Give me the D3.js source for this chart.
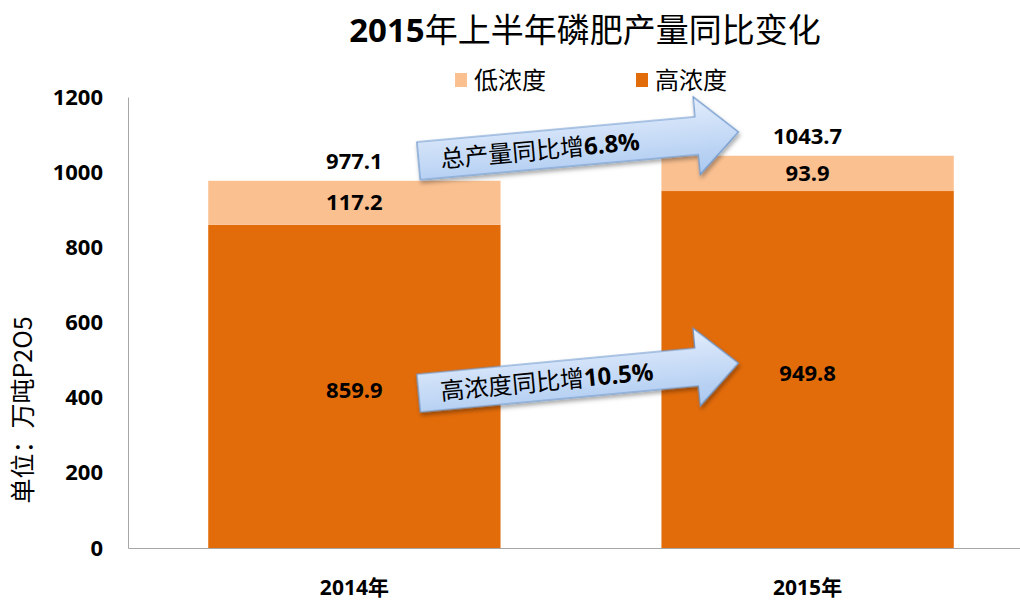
<!DOCTYPE html>
<meta charset="utf-8">
<script src="https://d3js.org/d3.v7.min.js"></script>
<style>
  body { margin: 0; background: #fff; }
  text { font-family: "Open Sans", "Noto Sans CJK SC", sans-serif; }
</style>
<body>
<svg width="1020" height="600"></svg>
<script>
// chart values
var categories = ["2014年", "2015年"];
var highConc = [859.9, 949.8];   // 高浓度
var lowConc = [117.2, 93.9];     // 低浓度
var totals = [977.1, 1043.7];
var yTicks = [0, 200, 400, 600, 800, 1000, 1200];
var seriesNames = ["低浓度", "高浓度"];
// growth arrows: value at tail (left) and at tip (right)
var arrowText = ["总产量同比增", "高浓度同比增"];
var arrowPct = ["6.8%", "10.5%"];
var arrowFrom = [1030, 412];
var arrowTo = [1107, 492];

var svg = d3.select("svg");
var plotLeft = 128, plotBottom = 548, plotTop = 97;
var cjk = "'Noto Sans CJK SC', sans-serif";
var num = "'Open Sans', 'Noto Sans CJK SC', sans-serif";
var dark = "#E36C0A", light = "#FAC090";

var x = d3.scaleBand().domain(categories).range([plotLeft, plotLeft + 906])
    .paddingInner(0.355).paddingOuter(0.177);
var y = d3.scaleLinear().domain([0, 1200]).range([plotBottom, plotTop]);

// title
var title = svg.append("text")
    .attr("x", 585).attr("y", 42)
    .attr("text-anchor", "middle")
    .style("font-size", "33px");
title.append("tspan").style("font-family", num).style("font-weight", "bold").text("2015");
title.append("tspan").style("font-family", cjk).text("年上半年磷肥产量同比变化");

// legend
var legendX = [455, 636];
var legendColors = [light, dark];
seriesNames.forEach(function(name, i) {
    svg.append("rect")
        .attr("x", legendX[i]).attr("y", 73)
        .attr("width", 12).attr("height", 14)
        .attr("fill", legendColors[i]);
    svg.append("text")
        .attr("x", legendX[i] + 19).attr("y", 89)
        .style("font-family", cjk).style("font-size", "24px")
        .text(name);
});

// axes
var yAxis = svg.append("g")
    .attr("transform", "translate(" + plotLeft + ",0)")
    .call(d3.axisLeft(y).tickValues(yTicks).tickFormat(d3.format("d"))
        .tickSize(0).tickPadding(25));
yAxis.select(".domain").attr("stroke", "#a6a6a6");
yAxis.selectAll("text")
    .style("font-family", num).style("font-weight", "bold")
    .style("font-size", "22px").attr("fill", "#000");

var xAxis = svg.append("g")
    .attr("transform", "translate(0," + plotBottom + ")")
    .call(d3.axisBottom(x).tickSize(0).tickPadding(32));
xAxis.select(".domain").attr("stroke", "#a6a6a6");
xAxis.selectAll("text")
    .style("font-family", num).style("font-weight", "bold")
    .style("font-size", "21px").attr("fill", "#000");

// y label
svg.append("text")
    .attr("transform", "translate(32,410) rotate(-90)")
    .attr("text-anchor", "middle")
    .style("font-family", cjk).style("font-size", "25px")
    .text("单位：万吨P2O5");

// bars
var bars = svg.append("g");
bars.selectAll(".high").data(highConc).enter().append("rect")
    .attr("x", function(d, i) { return x(categories[i]); })
    .attr("width", x.bandwidth())
    .attr("y", function(d) { return y(d); })
    .attr("height", function(d) { return y(0) - y(d); })
    .attr("fill", dark);
bars.selectAll(".low").data(lowConc).enter().append("rect")
    .attr("x", function(d, i) { return x(categories[i]); })
    .attr("width", x.bandwidth())
    .attr("y", function(d, i) { return y(highConc[i] + d); })
    .attr("height", function(d, i) { return y(highConc[i]) - y(highConc[i] + d); })
    .attr("fill", light);

function label(cx, cy, txt) {
    svg.append("text")
        .attr("x", cx).attr("y", cy)
        .attr("text-anchor", "middle").attr("dy", "0.35em")
        .style("font-family", num).style("font-weight", "bold")
        .style("font-size", "22px").attr("fill", "#000")
        .text(txt);
}
categories.forEach(function(c, i) {
    var cx = x(c) + x.bandwidth() / 2;
    label(cx, (y(0) + y(highConc[i])) / 2 + 4, highConc[i].toFixed(1));
    label(cx, (y(highConc[i]) + y(totals[i])) / 2, lowConc[i].toFixed(1));
    label(cx, y(totals[i]) - 19, totals[i].toFixed(1));
});

// arrows
var defs = svg.append("defs");
var grad = defs.append("linearGradient").attr("id", "arrowGrad")
    .attr("x1", 0).attr("y1", 0).attr("x2", 0).attr("y2", 1);
grad.append("stop").attr("offset", "0%").attr("stop-color", "#e3edfc");
grad.append("stop").attr("offset", "100%").attr("stop-color", "#a9c8f0");
var shadow = defs.append("filter").attr("id", "shadow")
    .attr("x", "-10%").attr("y", "-30%").attr("width", "120%").attr("height", "160%");
shadow.append("feDropShadow").attr("dx", 1).attr("dy", 3)
    .attr("stdDeviation", 2).attr("flood-color", "#000").attr("flood-opacity", 0.35);

arrowText.forEach(function(t, i) {
    var x0 = x(categories[0]) + x.bandwidth() - 82, y0 = y(arrowFrom[i]);
    var x1 = x(categories[1]) + 77, y1 = y(arrowTo[i]);
    var len = Math.hypot(x1 - x0, y1 - y0);
    var ang = Math.atan2(y1 - y0, x1 - x0) * 180 / Math.PI;
    var hl = 42, sh = 19, hh = 39;
    var g = svg.append("g")
        .attr("transform", "translate(" + x0 + "," + y0 + ") rotate(" + ang + ")");
    g.append("path")
        .attr("d", "M0," + (-sh) + "L" + (len - hl) + "," + (-sh) + "L" + (len - hl) + "," + (-hh) +
            "L" + len + ",0L" + (len - hl) + "," + hh + "L" + (len - hl) + "," + sh + "L0," + sh + "Z")
        .attr("fill", "url(#arrowGrad)")
        .attr("stroke", "#6b96cc").attr("stroke-width", 1.2)
        .attr("filter", "url(#shadow)");
    var tx = g.append("text")
        .attr("x", 22).attr("y", 9)
        .style("font-size", "24px").attr("fill", "#000");
    tx.append("tspan").style("font-family", cjk).text(t);
    tx.append("tspan").style("font-family", num).style("font-weight", "bold").text(arrowPct[i]);
});
</script>
</body>
